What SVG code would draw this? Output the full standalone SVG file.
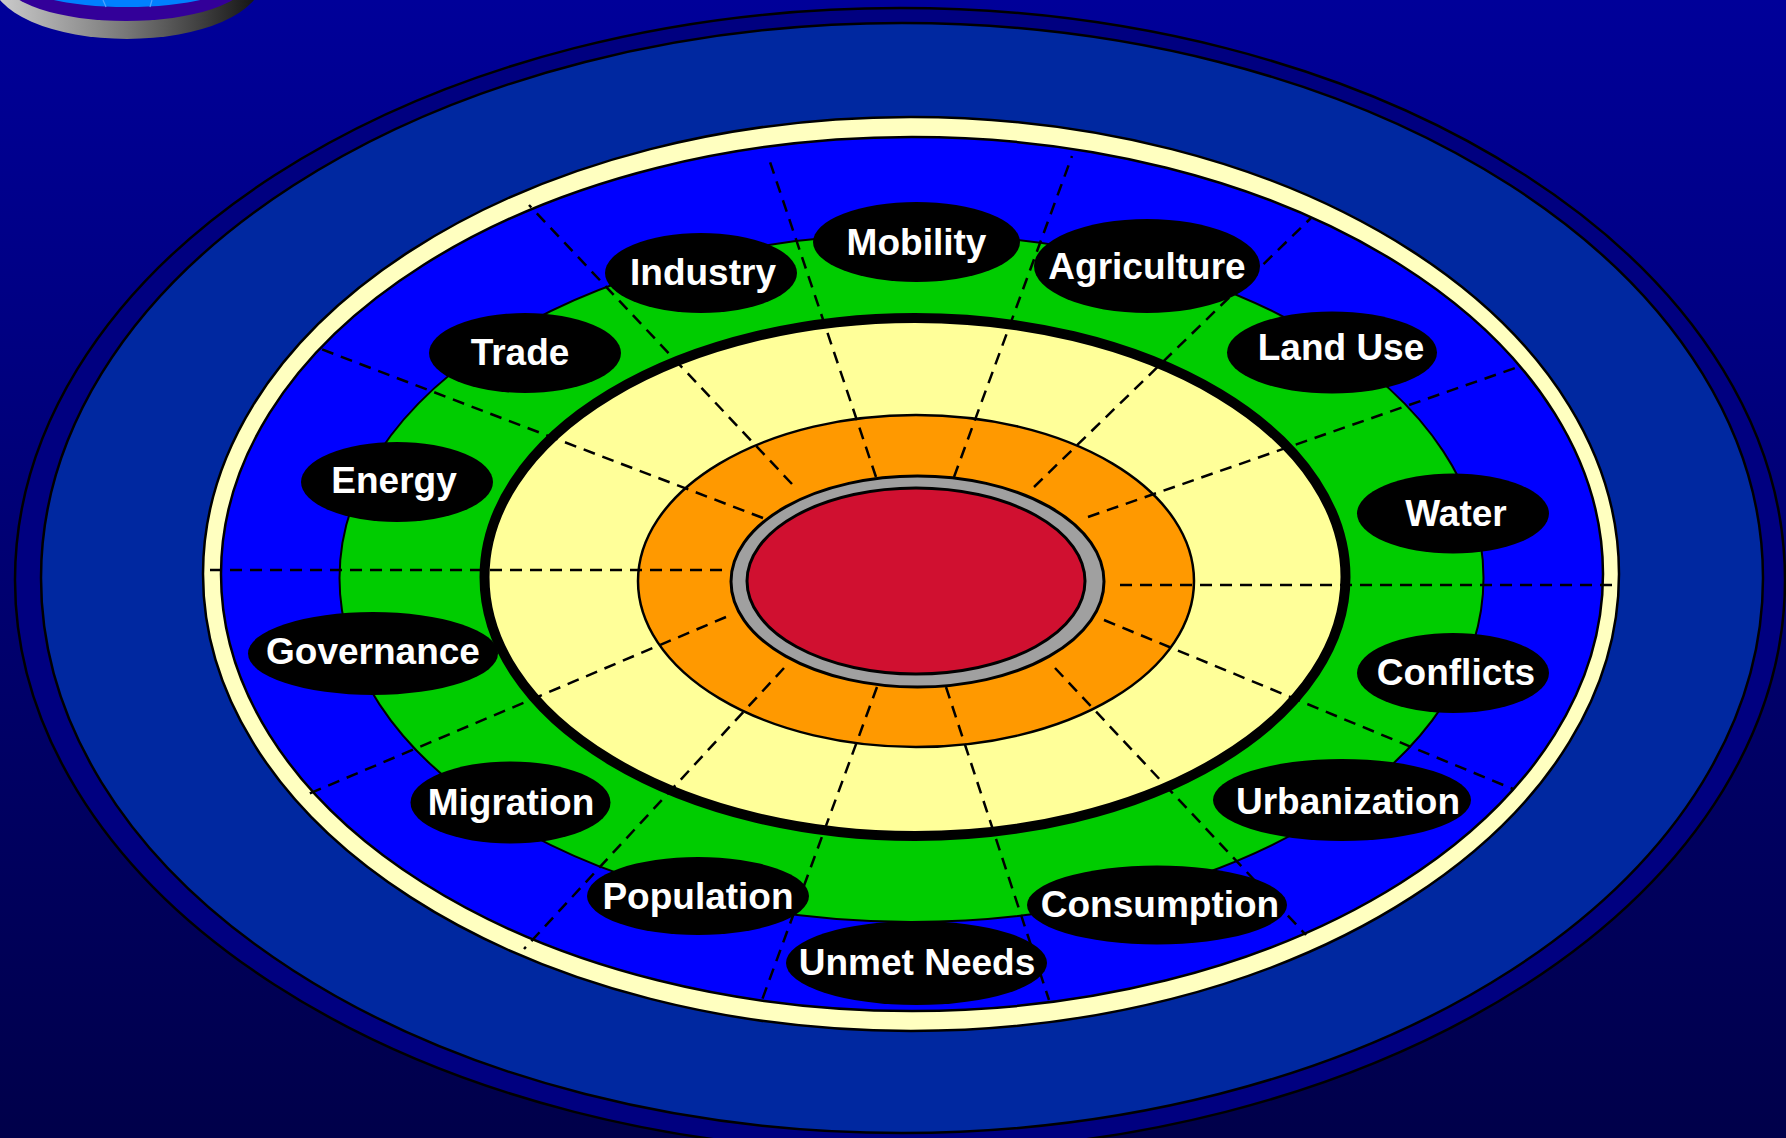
<svg xmlns="http://www.w3.org/2000/svg" width="1786" height="1138" viewBox="0 0 1786 1138">
<defs>
<linearGradient id="bg" x1="0" y1="0" x2="0" y2="1">
<stop offset="0" stop-color="#000099"/>
<stop offset="1" stop-color="#00004A"/>
</linearGradient>
<linearGradient id="rim" x1="0" y1="0" x2="1" y2="0">
<stop offset="0" stop-color="#D0D0D0"/>
<stop offset="0.5" stop-color="#777777"/>
<stop offset="1" stop-color="#101010"/>
</linearGradient>
</defs>
<style>
.ring{stroke:#000;stroke-width:2.5}
.spoke{stroke:#000;stroke-width:2.5;stroke-dasharray:12 8;fill:none}
.lbl ellipse{fill:#000}
.lbl text{fill:#fff;font-family:"Liberation Sans",Arial,sans-serif;font-weight:bold;font-size:37px;text-anchor:middle}
</style>
<rect x="0" y="0" width="1786" height="1138" fill="url(#bg)"/>
<g id="icon">
<ellipse cx="127" cy="-20" rx="135" ry="59" fill="url(#rim)"/>
<ellipse cx="126" cy="-20" rx="122" ry="41" fill="#330099"/>
<ellipse cx="127" cy="-20" rx="109" ry="27" fill="#0080FF"/>
<line x1="103" y1="0" x2="106" y2="7" stroke="#4FA3FF" stroke-width="1.2"/>
<line x1="152" y1="0" x2="150" y2="7" stroke="#4FA3FF" stroke-width="1.2"/>
</g>
<g id="rings">
<ellipse cx="900" cy="580" rx="885" ry="572" fill="#000080" class="ring"/>
<ellipse cx="902" cy="578" rx="861" ry="555" fill="#0028A0" class="ring"/>
<ellipse cx="911" cy="574" rx="708" ry="457" fill="#FFFFC0" class="ring"/>
<ellipse cx="912" cy="574" rx="691" ry="437" fill="#0000FF" class="ring"/>
<ellipse cx="911.5" cy="578" rx="572" ry="344" fill="#00CC00" stroke="#000" stroke-width="2"/>
<ellipse cx="915" cy="577" rx="430.5" ry="259" fill="#FFFF99" stroke="#000" stroke-width="10"/>
<ellipse cx="916" cy="581" rx="278" ry="166" fill="#FF9900" stroke="#000" stroke-width="2.5"/>
<ellipse cx="917.5" cy="581.5" rx="186.5" ry="105.5" fill="#A0A0A0" stroke="#000" stroke-width="3"/>
<ellipse cx="916" cy="581" rx="169" ry="93" fill="#D01030" stroke="#000" stroke-width="3"/>
</g>
<g id="connectors">
<line class="spoke" x1="722" y1="570" x2="206" y2="570"/>
<line class="spoke" x1="1120" y1="585" x2="1616" y2="585"/>
<line class="spoke" x1="792" y1="484" x2="529" y2="205"/>
<line class="spoke" x1="763" y1="518" x2="321" y2="349"/>
<line class="spoke" x1="726" y1="617" x2="306" y2="795"/>
<line class="spoke" x1="784" y1="668" x2="524" y2="949"/>
<line class="spoke" x1="877" y1="687" x2="762" y2="1000"/>
<line class="spoke" x1="946" y1="687" x2="1049" y2="1000"/>
<line class="spoke" x1="1055" y1="668" x2="1306" y2="935"/>
<line class="spoke" x1="1104" y1="620" x2="1513" y2="789"/>
<line class="spoke" x1="1088" y1="517" x2="1521" y2="366"/>
<line class="spoke" x1="1034" y1="487" x2="1311" y2="218"/>
<line class="spoke" x1="954" y1="477" x2="1072" y2="156"/>
<line class="spoke" x1="876" y1="477" x2="768" y2="156"/>
</g>
<g id="mobility" class="lbl"><ellipse cx="916.5" cy="242" rx="103.5" ry="40"/><text x="916.5" y="255">Mobility</text></g>
<g id="agriculture" class="lbl"><ellipse cx="1147" cy="266" rx="113" ry="47"/><text x="1147" y="279">Agriculture</text></g>
<g id="landuse" class="lbl"><ellipse cx="1332" cy="352.5" rx="105" ry="41"/><text x="1341" y="360">Land Use</text></g>
<g id="water" class="lbl"><ellipse cx="1453" cy="513.5" rx="96" ry="40"/><text x="1456" y="526">Water</text></g>
<g id="conflicts" class="lbl"><ellipse cx="1453" cy="673" rx="96" ry="40"/><text x="1456" y="685">Conflicts</text></g>
<g id="urbanization" class="lbl"><ellipse cx="1342" cy="800" rx="129" ry="41"/><text x="1348" y="814">Urbanization</text></g>
<g id="consumption" class="lbl"><ellipse cx="1157" cy="905" rx="130" ry="39.5"/><text x="1160" y="917">Consumption</text></g>
<g id="unmetneeds" class="lbl"><ellipse cx="916.5" cy="963" rx="130.5" ry="42"/><text x="917" y="975">Unmet Needs</text></g>
<g id="population" class="lbl"><ellipse cx="698" cy="896" rx="111" ry="39"/><text x="698" y="909">Population</text></g>
<g id="migration" class="lbl"><ellipse cx="510.5" cy="802.5" rx="100" ry="41"/><text x="511" y="815">Migration</text></g>
<g id="governance" class="lbl"><ellipse cx="373" cy="653.5" rx="125" ry="41.5"/><text x="373" y="664">Governance</text></g>
<g id="energy" class="lbl"><ellipse cx="397" cy="482" rx="96" ry="40"/><text x="394" y="493">Energy</text></g>
<g id="trade" class="lbl"><ellipse cx="525" cy="353" rx="96" ry="40"/><text x="520" y="365">Trade</text></g>
<g id="industry" class="lbl"><ellipse cx="701" cy="273" rx="96" ry="40"/><text x="703" y="285">Industry</text></g>
</svg>
